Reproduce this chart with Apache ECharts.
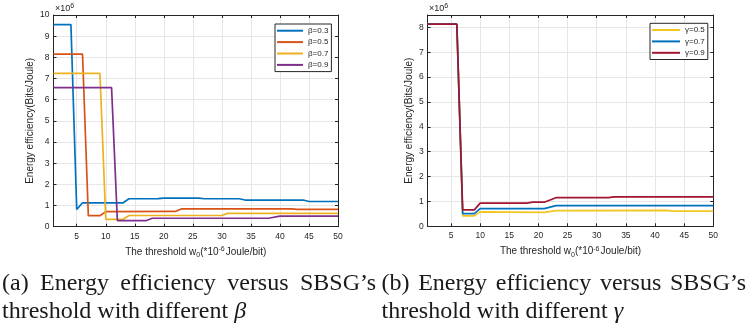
<!DOCTYPE html>
<html>
<head>
<meta charset="utf-8">
<script src="https://cdn.jsdelivr.net/npm/echarts@6/dist/echarts.min.js"></script>
<style>
  html, body { margin: 0; padding: 0; background: #fff; }
  #chart { width: 749px; height: 327px; }
</style>
</head>
<body>
<div id="chart"></div>
<script>
// threshold w0 ticks (x axis)
const xTicks = [5, 10, 15, 20, 25, 30, 35, 40, 45, 50];

// (a) different beta, energy efficiency in 1e6 Bits/Joule, [w0, value] at the breakpoints
const betaNames = ["β=0.3", "β=0.5", "β=0.7", "β=0.9"];
const beta03 = [[1, 9.55], [4, 9.55], [5, 0.81], [6, 1.13], [13, 1.13], [14, 1.32], [19, 1.33], [20, 1.35], [26, 1.35], [27, 1.32], [33, 1.32], [34, 1.26], [44, 1.26], [45, 1.19], [50, 1.19]];
const beta05 = [[1, 8.15], [6, 8.15], [7, 0.52], [9, 0.52], [10, 0.71], [22, 0.72], [23, 0.84], [42, 0.84], [43, 0.82], [50, 0.82]];
const beta07 = [[1, 7.24], [9, 7.24], [10, 0.35], [13, 0.35], [14, 0.53], [30, 0.53], [31, 0.63], [50, 0.63]];
const beta09 = [[1, 6.57], [11, 6.57], [12, 0.29], [17, 0.29], [18, 0.40], [38, 0.40], [40, 0.50], [50, 0.50]];

// (b) different gamma
const gammaNames = ["γ=0.5", "γ=0.7", "γ=0.9"];
const gamma05 = [[1, 8.13], [6, 8.13], [7, 0.42], [9, 0.42], [10, 0.58], [21, 0.56], [23, 0.63], [42, 0.64], [43, 0.61], [50, 0.61]];
const gamma07 = [[1, 8.13], [6, 8.13], [7, 0.51], [9, 0.51], [10, 0.71], [21, 0.71], [23, 0.83], [50, 0.83]];
const gamma09 = [[1, 8.13], [6, 8.13], [7, 0.66], [9, 0.66], [10, 0.93], [18, 0.93], [19, 0.97], [21, 0.97], [23, 1.15], [32, 1.15], [33, 1.18], [50, 1.18]];

const captionA = ["(a)", "Energy", "efficiency", "versus", "SBSG’s"];
const captionB = ["(b)", "Energy", "efficiency", "versus", "SBSG’s"];

const ink = "#262626";
const gridCol = "#e6e6e6";
const sans = "Liberation Sans";
const serif = "Liberation Serif";

const chart = echarts.init(document.getElementById("chart"));

function xAxis(gridIndex, top) {
  return {
    type: "value",
    gridIndex: gridIndex,
    position: top ? "top" : "bottom",
    min: 1,
    max: 50,
    name: top ? "" : "The threshold w{sub|0}(*10{sup|-6}Joule/bit)",
    nameLocation: "middle",
    nameGap: 17,
    nameTextStyle: {
      color: ink, fontSize: 10, fontFamily: sans,
      rich: {
        sub: { fontSize: 7, fontFamily: sans, color: ink, padding: [6, 0, 0, 0] },
        sup: { fontSize: 7, fontFamily: sans, color: ink, padding: [0, 1, 6, 0] },
      },
    },
    axisLine: { onZero: false, lineStyle: { color: ink, width: 1 } },
    axisTick: { inside: true, length: 3, customValues: xTicks, lineStyle: { color: ink } },
    axisLabel: { show: !top, customValues: xTicks, color: ink, fontSize: 8.5, fontFamily: sans, margin: 5 },
    splitLine: { show: !top, lineStyle: { color: gridCol, width: 1 } },
  };
}

function yAxis(gridIndex, right, max) {
  return {
    type: "value",
    gridIndex: gridIndex,
    position: right ? "right" : "left",
    min: 0,
    max: max,
    interval: 1,
    name: right ? "" : "Energy efficiency(Bits/Joule)",
    nameLocation: "middle",
    nameGap: gridIndex === 0 ? 18 : 13,
    nameTextStyle: { color: ink, fontSize: 10, fontFamily: sans },
    axisLine: { onZero: false, lineStyle: { color: ink, width: 1 } },
    axisTick: { inside: true, length: 3, lineStyle: { color: ink } },
    axisLabel: {
      show: !right, color: ink, fontSize: 8.5, fontFamily: sans, margin: 4,
      formatter: function (v) { return Number.isInteger(v) ? String(v) : ""; },
    },
    splitLine: { show: !right, lineStyle: { color: gridCol, width: 1 } },
  };
}

function line(name, data, color, axis) {
  return {
    name: name,
    type: "line",
    xAxisIndex: axis,
    yAxisIndex: axis,
    data: data,
    showSymbol: false,
    symbol: "none",
    lineStyle: { color: color, width: 1.7 },
    itemStyle: { color: color },
    animation: false,
  };
}

function legend(names, left, top, itemWidth) {
  return {
    data: names,
    orient: "vertical",
    left: left,
    top: top,
    icon: "rect",
    itemWidth: itemWidth,
    itemHeight: 2,
    itemGap: 0,
    itemTextGap: 3,
    padding: [1, 3, 1, 2],
    backgroundColor: "#fff",
    borderColor: ink,
    borderWidth: 1,
    borderRadius: 0,
    textStyle: { color: ink, fontSize: 8, fontFamily: sans, lineHeight: 11.4 },
  };
}

// caption words: first line justified across the column, second line left aligned
const measure = document.createElement("canvas").getContext("2d");
const capSize = 24;
measure.font = capSize + "px '" + serif + "'";
function captionLine(words, x0, x1, y) {
  const widths = words.map(function (w) { return measure.measureText(w).width; });
  const total = widths.reduce(function (a, b) { return a + b; }, 0);
  const gap = (x1 - x0 - total) / (words.length - 1);
  let x = x0;
  return words.map(function (w, i) {
    const el = {
      type: "text", x: x, y: y,
      style: { text: w, font: capSize + "px '" + serif + "'", fill: "#1a1a1a", verticalAlign: "middle" },
    };
    x += widths[i] + gap;
    return el;
  });
}
function captionTail(letter, x, y) {
  return {
    type: "text", x: x, y: y,
    style: {
      text: "threshold with different {i|" + letter + "}",
      fontFamily: serif, fontSize: capSize, fill: "#1a1a1a", verticalAlign: "middle",
      rich: { i: { fontFamily: serif, fontSize: capSize, fontStyle: "italic", fill: "#1a1a1a" } },
    },
  };
}
function scaleMark(x, y) {
  return {
    type: "text", x: x, y: y,
    style: {
      text: "×10{s|6}", fontFamily: sans, fontSize: 9, fill: ink, verticalAlign: "middle",
      rich: { s: { fontFamily: sans, fontSize: 7, fill: ink, padding: [0, 0, 6, 0] } },
    },
  };
}

const graphics = []
  .concat(captionLine(captionA, 2, 376, 284))
  .concat(captionLine(captionB, 381.5, 746, 284))
  .concat([
    captionTail("β", 2, 312),
    captionTail("γ", 381.5, 312),
    scaleMark(55, 9),
    scaleMark(429, 9),
  ]);

chart.setOption({
  animation: false,
  backgroundColor: "#fff",
  grid: [
    { left: 53.5, top: 15, width: 284.5, height: 211.7 },
    { left: 427.7, top: 15, width: 285.6, height: 211.3 },
  ],
  xAxis: [xAxis(0, false), xAxis(0, true), xAxis(1, false), xAxis(1, true)],
  yAxis: [yAxis(0, false, 10), yAxis(0, true, 10), yAxis(1, false, 8.5), yAxis(1, true, 8.5)],
  legend: [legend(betaNames, 275, 24, 26), legend(gammaNames, 650, 23.3, 28)],
  series: [
    line(betaNames[0], beta03, "#0072BD", 0),
    line(betaNames[1], beta05, "#D95319", 0),
    line(betaNames[2], beta07, "#EDB120", 0),
    line(betaNames[3], beta09, "#7E2F8E", 0),
    line(gammaNames[0], gamma05, "#F2C61F", 2),
    line(gammaNames[1], gamma07, "#0072BD", 2),
    line(gammaNames[2], gamma09, "#A2142F", 2),
  ],
  graphic: graphics,
});
</script>
</body>
</html>
